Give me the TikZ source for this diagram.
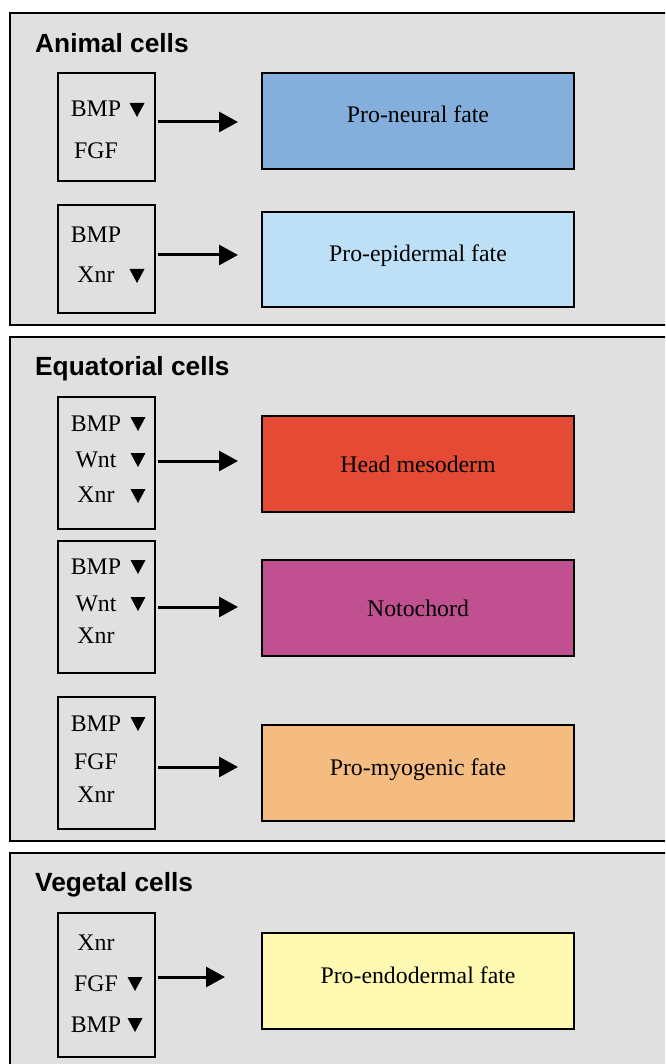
\documentclass[tikz,border=0pt]{standalone}
\usepackage{fontspec}
\setmainfont{Liberation Serif}
\setsansfont{Liberation Sans}
\usetikzlibrary{arrows.meta,positioning}
\definecolor{panelgray}{HTML}{E0E0E0}
\definecolor{neural}{HTML}{84AEDC}
\definecolor{epidermal}{HTML}{BDE0F7}
\definecolor{headmeso}{HTML}{E54B34}
\definecolor{notochord}{HTML}{C05090}
\definecolor{myogenic}{HTML}{F5BC82}
\definecolor{endodermal}{HTML}{FFF9B1}
\tikzset{
  panel/.style={draw=black, line width=1.2pt, fill=panelgray},
  title/.style={anchor=base west, inner sep=0pt,
    font=\sffamily\bfseries\fontsize{26.3}{31}\selectfont},
  sigbox/.style={draw=black, line width=1.2pt, inner sep=0pt,
    minimum width=97pt},
  sig/.style={anchor=base, inner sep=0pt,
    font=\fontsize{23.8}{28}\selectfont},
  fate/.style={draw=black, line width=1.2pt, inner sep=0pt,
    minimum width=312pt, minimum height=96pt,
    text height=16pt, text depth=0pt,
    font=\fontsize{23.8}{28}\selectfont},
  lift/.style={text depth=12pt},
  line/.style={draw, line width=3pt, shorten <=2pt,
    -{Triangle[length=19pt,width=20pt]}},
}
% small black down-pointing marker
\newcommand{\dnmark}[1]{\fill (#1) ++(-7.5,-7) -- ++(15,0) -- ++(-7.5,14) -- cycle;}

\begin{document}
\begin{tikzpicture}[x=1pt, y=-1pt]

    \fill[white] (0,0) rectangle (665,1064);
    \useasboundingbox (0,0) rectangle (665,1064);
    \clip (0,0) rectangle (665,1064);

    % three panels
    \draw[panel] (10,13) rectangle (700,325);
    \draw[panel] (10,337) rectangle (700,841);
    \draw[panel] (10,853) rectangle (700,1100);

    \node[title] (tanimal) at (35,53) {Animal cells};
    \node[title] (tequat) at (35,375) {Equatorial cells};
    \node[title] (tveget) at (35,891) {Vegetal cells};

    % animal cells
    \node[sigbox, minimum height=108pt] (s1) at (106.5,127) {};
    \node[sig] (s1a) at (96,117) {BMP};
    \node[sig] (s1b) at (96,159) {FGF};
    \dnmark{137,110}
    \node[fate, lift, fill=neural] (f1) at (418,121) {Pro-neural fate};
    \coordinate (e1) at (238,122);
    \draw[line] (s1.east |- e1) -- (e1);

    \node[sigbox, minimum height=108pt] (s2) at (106.5,259) {};
    \node[sig] (s2a) at (96,243) {BMP};
    \node[sig] (s2b) at (96,283) {Xnr};
    \dnmark{137,276}
    \node[fate, lift, fill=epidermal, minimum height=95pt] (f2) at (418,259.5) {Pro-epidermal fate};
    \coordinate (e2) at (238,255);
    \draw[line] (s2.east |- e2) -- (e2);

    % equatorial cells
    \node[sigbox, minimum height=132pt] (s3) at (106.5,463) {};
    \node[sig] (s3a) at (96,431) {BMP};
    \node[sig] (s3b) at (96,467) {Wnt};
    \node[sig] (s3c) at (96,502) {Xnr};
    \dnmark{138,424}
    \dnmark{138,460}
    \dnmark{138,496}
    \node[fate, fill=headmeso] (f3) at (418,464) {Head mesoderm};
    \coordinate (e3) at (238,461);
    \draw[line] (s3.east |- e3) -- (e3);

    \node[sigbox, minimum height=132pt] (s4) at (106.5,607) {};
    \node[sig] (s4a) at (96,574) {BMP};
    \node[sig] (s4b) at (96,611) {Wnt};
    \node[sig] (s4c) at (96,643) {Xnr};
    \dnmark{138,567}
    \dnmark{138,604}
    \node[fate, fill=notochord] (f4) at (418,608) {Notochord};
    \coordinate (e4) at (238,607);
    \draw[line] (s4.east |- e4) -- (e4);

    \node[sigbox, minimum height=132pt] (s5) at (106.5,763) {};
    \node[sig] (s5a) at (96,731) {BMP};
    \node[sig] (s5b) at (96,769) {FGF};
    \node[sig] (s5c) at (96,802) {Xnr};
    \dnmark{138,724}
    \node[fate, lift, fill=myogenic] (f5) at (418,773) {Pro-myogenic fate};
    \coordinate (e5) at (238,767);
    \draw[line] (s5.east |- e5) -- (e5);

    % vegetal cells
    \node[sigbox, minimum height=144pt] (s6) at (106.5,985) {};
    \node[sig] (s6a) at (96,950) {Xnr};
    \node[sig] (s6b) at (96,991) {FGF};
    \node[sig] (s6c) at (96,1032) {BMP};
    \dnmark{135,984}
    \dnmark{135,1025}
    \node[fate, lift, fill=endodermal] (f6) at (418,981) {Pro-endodermal fate};
    \coordinate (e6) at (225,977);
    \draw[line] (s6.east |- e6) -- (e6);

\end{tikzpicture}
\end{document}
